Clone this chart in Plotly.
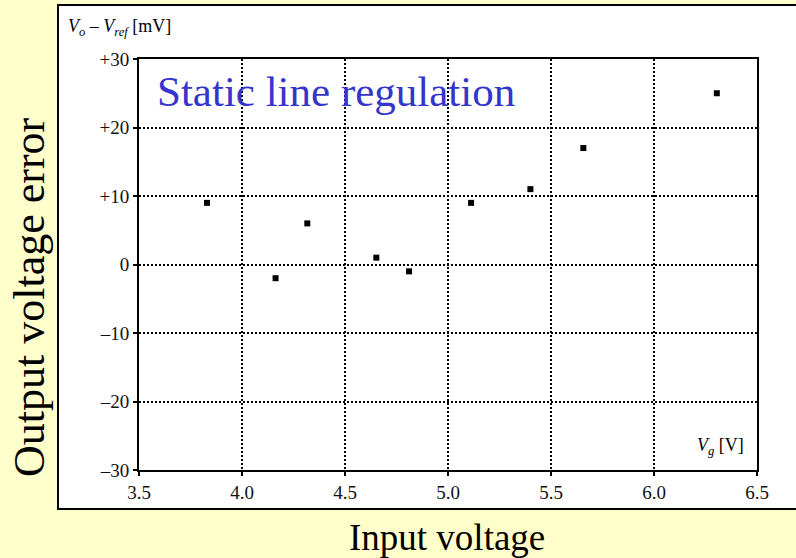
import plotly.graph_objects as go

# Measured static line regulation: input voltage vs. output voltage error
vg_volts = [3.83, 4.163, 4.317, 4.652, 4.811, 5.112, 5.40, 5.657, 6.305]
error_mv = [9, -2, 6, 1, -1, 9, 11, 17, 25]

x_ticks = [3.5, 4.0, 4.5, 5.0, 5.5, 6.0, 6.5]
y_ticks = [-30, -20, -10, 0, 10, 20, 30]
y_tick_text = ["–30", "–20", "–10", "0", "+10", "+20", "+30"]

W, H = 796, 558
L, R, T, B = 139, 39, 59, 88
pw, ph = W - L - R, H - T - B

def px_x(p):
    return (p - L) / pw

def px_y(p):
    return 1 - (p - T) / ph

serif = "Liberation Serif"

fig = go.Figure()
fig.add_trace(go.Scatter(
    x=vg_volts, y=error_mv, mode="markers",
    marker=dict(symbol="square", size=6, color="black", line=dict(width=0)),
    hoverinfo="x+y", showlegend=False,
))

axis_common = dict(
    showline=True, linewidth=2, linecolor="black", mirror=True,
    showgrid=True, gridcolor="black", gridwidth=2, griddash="2px,2px",
    zeroline=False, ticks="outside", ticklen=4, tickwidth=2, tickcolor="black",
    tickfont=dict(family=serif, size=19, color="#111"),
)

fig.update_layout(
    width=W, height=H,
    margin=dict(l=L, r=R, t=T, b=B),
    font=dict(family=serif, color="black"),
    paper_bgcolor="#FFFFCC",
    plot_bgcolor="white",
    xaxis=dict(range=[3.5, 6.5], tickvals=x_ticks, tickformat=".1f", **axis_common),
    yaxis=dict(range=[-30, 30], tickvals=y_ticks, ticktext=y_tick_text, **axis_common),
    shapes=[dict(
        type="rect", xref="paper", yref="paper", layer="below",
        x0=px_x(58), x1=px_x(805), y0=px_y(509), y1=px_y(5),
        fillcolor="white", line=dict(color="black", width=2),
    )],
    annotations=[
        dict(text="Static line regulation", xref="paper", yref="paper",
             x=px_x(155), y=px_y(91), xanchor="left", yanchor="middle",
             showarrow=False, font=dict(family=serif, size=43, color="#3535CC")),
        dict(text="Output voltage error", xref="paper", yref="paper",
             x=px_x(29), y=px_y(297), xanchor="center", yanchor="middle",
             textangle=-90, showarrow=False,
             font=dict(family=serif, size=44, color="black")),
        dict(text="Input voltage", xref="paper", yref="paper",
             x=px_x(447), y=px_y(537), xanchor="center", yanchor="middle",
             showarrow=False, font=dict(family=serif, size=37, color="black")),
        dict(text="<i>V</i><sub><i>o</i></sub> – <i>V</i><sub><i>ref</i></sub> [mV]",
             xref="paper", yref="paper", x=px_x(66), y=px_y(27),
             xanchor="left", yanchor="middle", showarrow=False,
             font=dict(family=serif, size=18, color="black")),
        dict(text="<i>V</i><sub><i>g</i></sub> [V]",
             xref="paper", yref="paper", x=px_x(746), y=px_y(446),
             xanchor="right", yanchor="middle", showarrow=False,
             font=dict(family=serif, size=18, color="black")),
    ],
)

fig.write_html("out.html")
